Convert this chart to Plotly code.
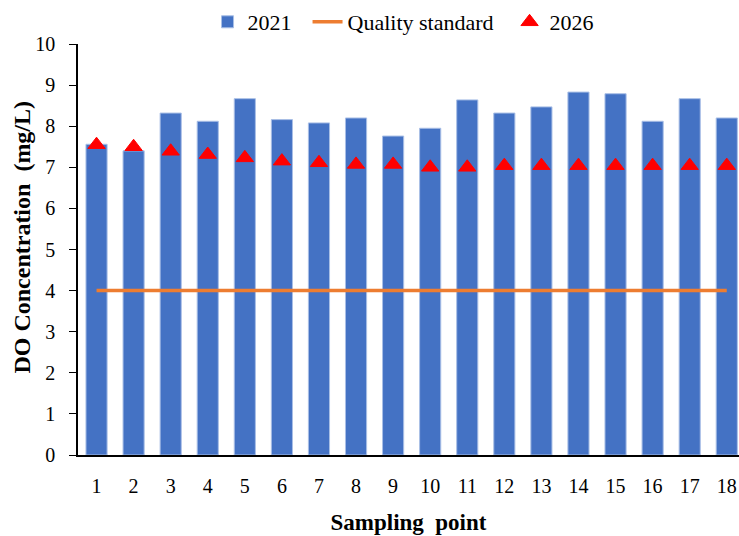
import plotly.graph_objects as go

points = list(range(1, 19))
do_2021 = [7.56, 7.40, 8.32, 8.12, 8.67, 8.16, 8.08, 8.20, 7.76,
           7.95, 8.64, 8.32, 8.47, 8.83, 8.79, 8.12, 8.67, 8.20]
do_2026 = [7.55, 7.50, 7.39, 7.31, 7.23, 7.15, 7.11, 7.07, 7.07,
           7.00, 7.00, 7.04, 7.04, 7.04, 7.04, 7.04, 7.04, 7.04]
quality_standard = [4] * 18
y_ticks = list(range(0, 11))

FONT = "Liberation Serif"

fig = go.Figure()
fig.add_trace(go.Bar(
    x=points, y=do_2021, name="2021&nbsp;&nbsp;",
    marker=dict(color="#4472C4", line=dict(color="#A9BFE6", width=1)),
    width=0.57,
))
fig.add_trace(go.Scatter(
    x=points, y=quality_standard, name="Quality standard&nbsp;&nbsp;", mode="lines",
    line=dict(color="#ED7D31", width=3.5),
))
fig.add_trace(go.Scatter(
    x=points, y=do_2026, name="2026", mode="markers",
    marker=dict(symbol="triangle-up", color="#FF0000", size=15,
                line=dict(color="#FF0000", width=1)),
))

fig.update_layout(
    width=739, height=536,
    margin=dict(l=78, r=0, t=44, b=81, autoexpand=False),
    plot_bgcolor="white", paper_bgcolor="white",
    font=dict(family=FONT, size=20, color="black"),
    showlegend=True,
    legend=dict(orientation="h", x=0.4925, xanchor="center", y=1.0535, yanchor="middle",
                font=dict(family=FONT, size=22), itemwidth=30,
                tracegroupgap=0, bgcolor="rgba(0,0,0,0)"),
    bargap=0.43,
)
fig.update_xaxes(
    range=[0.5, 18.33], tickmode="array", tickvals=points,
    ticktext=[str(p) for p in points],
    showline=True, linecolor="black", linewidth=1.5, ticks="",
    showgrid=False, zeroline=False, ticklabelstandoff=12,
    tickfont=dict(family=FONT, size=20), automargin=False,
    title=dict(text="<b>Sampling&nbsp; point</b>", font=dict(family=FONT, size=23), standoff=18),
)
fig.update_yaxes(
    range=[0, 10], tickmode="array", tickvals=y_ticks,
    showline=True, linecolor="black", linewidth=1.5, ticks="outside", ticklen=7,
    tickcolor="black", showgrid=False, zeroline=False, ticklabelstandoff=10,
    tickfont=dict(family=FONT, size=20), automargin=False,
)
fig.add_annotation(
    text="<b>DO Concentration&nbsp; (mg/L)</b>", textangle=-90,
    xref="paper", yref="paper", x=-0.0847, y=0.529, xanchor="center", yanchor="middle",
    showarrow=False, font=dict(family=FONT, size=24),
)

fig.write_html(
    "out.html",
    config={"displayModeBar": False},
    post_script="document.body.style.margin='0';document.documentElement.style.overflow='hidden';",
)
